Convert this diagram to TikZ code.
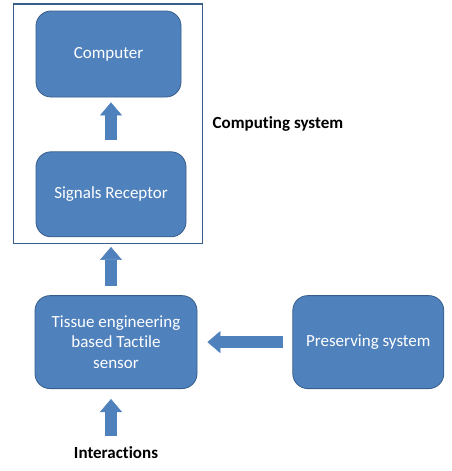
\documentclass[tikz,border=0pt]{standalone}
\usepackage{fontspec}
\setmainfont{Carlito}[Ligatures=NoCommon]
\usetikzlibrary{positioning, arrows.meta,
fit, % for the frame round the computing system
calc
}
\definecolor{boxblue}{HTML}{4F81BD}
\definecolor{boxline}{HTML}{385D8A}
\tikzset{%
  node distance=54pt, % gap between the blocks
  block/.style={draw=boxline, fill=boxblue, thick, rounded corners=15pt,
    text=white, align=center, inner sep=0pt,
    font=\fontsize{17}{20.5}\selectfont},
  flow/.style={draw=boxblue, line width=12pt,
    -{Triangle[width=22pt, length=13pt, line width=0.5pt]}},
  caption/.style={font=\bfseries\fontsize{17}{20}\selectfont}
}

\begin{document}
\begin{tikzpicture}[x=1pt, y=-1pt]
    \useasboundingbox (0,0) rectangle (451,471);
    \node[block, minimum width=145pt, minimum height=86pt] (comp) at (108.5,54) {Computer};
    \node[block, minimum width=150pt, minimum height=85pt, below=54pt of comp, xshift=2.5pt] (sig) {Signals Receptor};
    \node[block, minimum width=162pt, minimum height=93pt, below=58pt of sig, xshift=5pt] (tissue) {Tissue engineering\\based Tactile\\sensor};
    \node[block, minimum width=151pt, minimum height=93pt, right=95pt of tissue] (pres) {Preserving system};

    \node[draw=boxline, line width=1.5pt, fit=(comp)(sig), inner xsep=19pt, inner ysep=6.5pt, xshift=-3pt] (frame) {};
    \node[caption, right=6pt of frame] (compsys) {Computing system};
    \node[caption, below=54pt of tissue] (inter) {Interactions};

    \draw[flow, shorten <=11pt, shorten >=5pt] (sig.north) -- (sig.north |- comp.south);
    \draw[flow, shorten <=9pt, shorten >=2.5pt] (sig.south |- tissue.north) -- (sig.south |- frame.south);
    \draw[flow, shorten <=9pt, shorten >=10pt] (pres.west) -- (tissue.east);
    \draw[flow, shorten <=7pt, shorten >=10pt] (sig.south |- inter.north) -- (sig.south |- tissue.south);
\end{tikzpicture}
\end{document}
